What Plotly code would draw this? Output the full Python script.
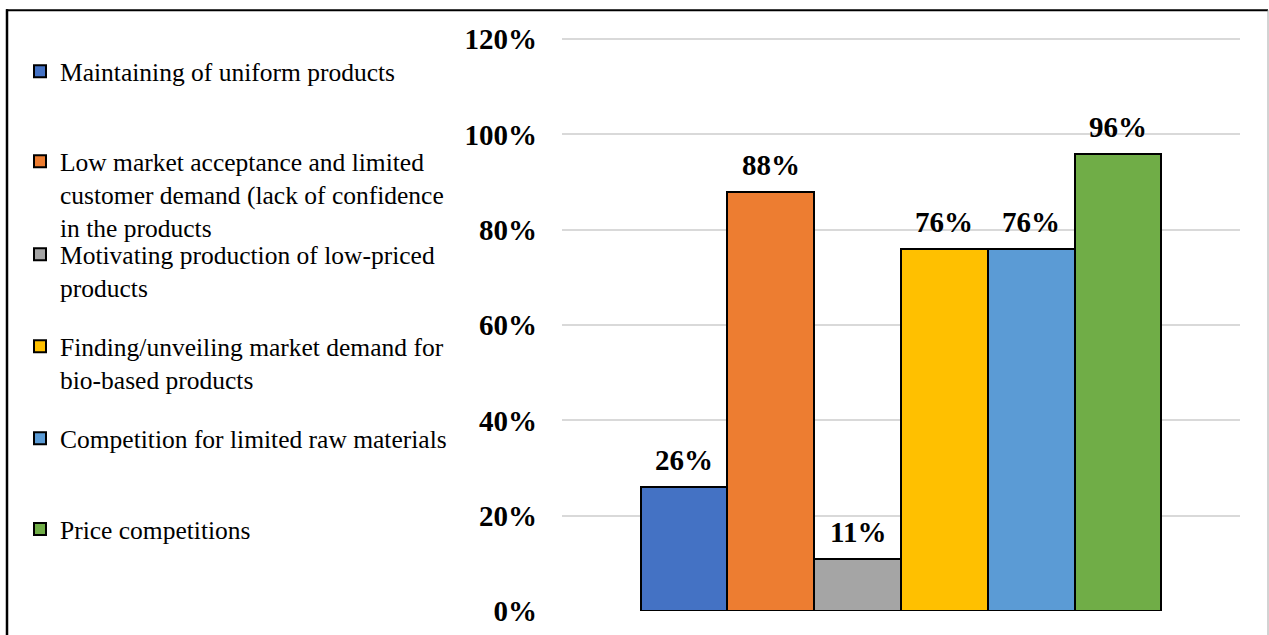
import plotly.graph_objects as go

# Survey results: share of respondents naming each market barrier
categories = [
    "Maintaining of uniform products",
    "Low market acceptance and limited customer demand (lack of confidence in the products",
    "Motivating production of low-priced products",
    "Finding/unveiling market demand for bio-based products",
    "Competition for limited raw materials",
    "Price competitions",
]
legend_labels = [
    "Maintaining of uniform products",
    "Low market acceptance and limited<br>customer demand (lack of confidence<br>in the products",
    "Motivating production of low-priced<br>products",
    "Finding/unveiling market demand for<br>bio-based products",
    "Competition for limited raw materials",
    "Price competitions",
]
values = [0.26, 0.88, 0.11, 0.76, 0.76, 0.96]
colors = ["#4472C4", "#ED7D31", "#A5A5A5", "#FFC000", "#5B9BD5", "#70AD47"]
y_ticks = [0, 0.2, 0.4, 0.6, 0.8, 1.0, 1.2]
y_tick_text = ["0%", "20%", "40%", "60%", "80%", "100%", "120%"]

W, H = 1269, 635
Y_MAX = 1.215
ML, MR, MB = 562, 29, 24
MT = 39 - (Y_MAX - 1.2) * (572 / 1.2)
PW, PH = W - ML - MR, H - MT - MB

SERIF = "Liberation Serif, Times New Roman, serif"


def px_x(px):
    return (px - ML) / PW


def px_y(py):
    return 1 - (py - MT) / PH


# top edge (px) of each legend block
legend_tops = [48, 138, 231, 323, 415, 506]

fig = go.Figure()
legend_layouts = {}
for i, (cat, lab, val, col) in enumerate(zip(categories, legend_labels, values, colors)):
    lname = "legend" if i == 0 else f"legend{i + 1}"
    fig.add_trace(go.Bar(
        x=[cat], y=[val], name=lab,
        marker=dict(color=col, line=dict(color="black", width=2)),
        legend=lname,
        hovertemplate="%{y:.0%}<extra></extra>",
    ))
    legend_layouts[lname] = dict(
        x=px_x(20), xanchor="left",
        y=px_y(legend_tops[i]), yanchor="top",
        valign="top",
        bgcolor="rgba(0,0,0,0)",
        font=dict(family=SERIF, size=25.5, color="black"),
    )
    fig.add_annotation(
        x=cat, y=val, text=f"{round(val * 100)}%",
        showarrow=False, yanchor="bottom", yshift=9,
        font=dict(family=SERIF, size=29, color="black", weight="bold"),
    )

fig.update_layout(**legend_layouts)

fig.update_layout(
    width=W, height=H,
    margin=dict(l=ML, r=MR, t=MT, b=MB, autoexpand=False),
    paper_bgcolor="white", plot_bgcolor="white",
    barmode="overlay", bargap=0,
    showlegend=True,
    xaxis=dict(
        type="category", categoryorder="array", categoryarray=categories,
        range=[-1.405, 6.405], showticklabels=False, showgrid=False,
        zeroline=False, showline=False, ticks="",
    ),
    yaxis=dict(
        range=[0, Y_MAX], tickvals=y_ticks, ticktext=y_tick_text,
        showgrid=True, gridcolor="#d9d9d9", gridwidth=2,
        zeroline=False, showline=False, ticks="",
        ticklabelstandoff=24,
        tickfont=dict(family=SERIF, size=29, color="black", weight="bold"),
    ),
    shapes=[
        dict(type="line", xref="paper", yref="paper",
             x0=px_x(6), x1=px_x(1268), y0=px_y(10), y1=px_y(10),
             line=dict(color="black", width=2)),
        dict(type="line", xref="paper", yref="paper",
             x0=px_x(7), x1=px_x(7), y0=px_y(9), y1=px_y(640),
             line=dict(color="black", width=2.5)),
        dict(type="line", xref="paper", yref="paper",
             x0=px_x(1268), x1=px_x(1268), y0=px_y(10), y1=px_y(640),
             line=dict(color="#a6a6a6", width=1)),
    ],
)

fig.write_html("out.html")
